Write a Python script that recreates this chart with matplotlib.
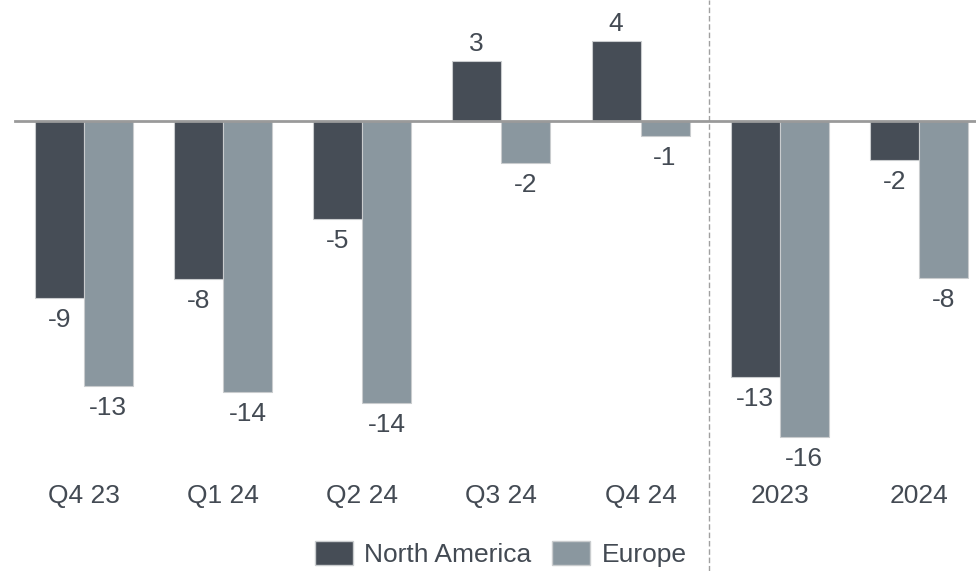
import matplotlib
matplotlib.use("Agg")
import matplotlib.pyplot as plt
import numpy as np
from matplotlib.patches import Patch

categories = ["Q4 23", "Q1 24", "Q2 24", "Q3 24", "Q4 24", "2023", "2024"]
north_america = [-8.85, -7.9, -4.9, 3.0, 4.0, -12.8, -1.95]
europe = [-13.25, -13.55, -14.1, -2.1, -0.75, -15.8, -7.85]
series_names = ["North America", "Europe"]

plt.rcParams['font.family'] = ['Liberation Sans', 'DejaVu Sans']
NA_COLOR = "#464d56"
EU_COLOR = "#8a979f"
TEXT_COLOR = "#434a53"
EDGE = "#c9ccce"

fig = plt.figure(figsize=(9.76, 5.71), dpi=100)
ax = fig.add_axes([0, 0, 1, 1])
ax.set_xlim(-0.601, 6.41)
ax.set_ylim(-22.515, 6.035)
ax.axis('off')

x = np.arange(len(categories))
w = 0.352
b1 = ax.bar(x - w / 2, north_america, w, color=NA_COLOR, edgecolor=EDGE, linewidth=0.8, zorder=2)
b2 = ax.bar(x + w / 2, europe, w, color=EU_COLOR, edgecolor=EDGE, linewidth=0.8, zorder=2)

ax.axhline(0, xmin=15 / 976, xmax=1, color="#9a9a9a", linewidth=2, zorder=3)
ax.axvline(4.49, color="#a0a0a0", linewidth=1, linestyle=(0, (4, 2)), zorder=1)

fs = 19
for xs, vals in ((x - w / 2, north_america), (x + w / 2, europe)):
    for xi, v in zip(xs, vals):
        off = 10 if v >= 0 else -29
        ax.annotate(f"{int(round(v))}", (xi, v), xytext=(0, off), textcoords='offset pixels',
                    ha='center', va='baseline', fontsize=fs, color=TEXT_COLOR)

for xi, c in zip(x, categories):
    ax.text(xi, -19.1, c, ha='center', va='baseline', fontsize=fs, color=TEXT_COLOR)

handles = [Patch(facecolor=NA_COLOR, edgecolor=EDGE), Patch(facecolor=EU_COLOR, edgecolor=EDGE)]
fig.legend(handles, series_names, loc='center', bbox_to_anchor=(0.513, 0.03), ncol=2,
           frameon=False, fontsize=fs, handlelength=1.44, handleheight=1.0,
           handletextpad=0.42, columnspacing=0.8, borderpad=0, labelcolor=TEXT_COLOR)

fig.savefig("out.png", dpi=100)
